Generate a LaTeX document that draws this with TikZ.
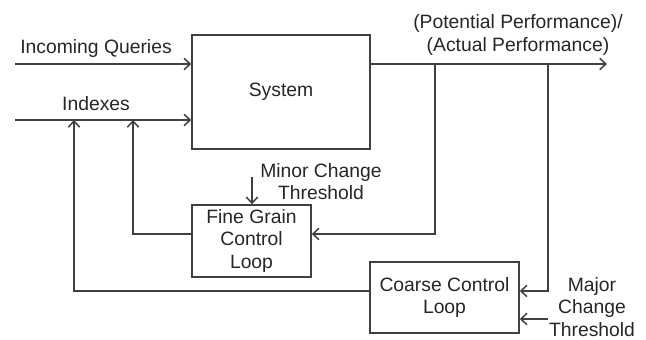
\documentclass[tikz,border=0pt]{standalone}
\usepackage{fontspec}
\setmainfont{Liberation Sans}
\usetikzlibrary{arrows.meta}

\begin{document}
\begin{tikzpicture}[x=0.02cm,y=-0.02cm,
  >={Straight Barb[length=3.5pt,width=6.5pt]},
  wire/.style={draw=black!75,line width=0.85pt},
  lbl/.style={font=\fontsize{11}{12.6}\selectfont,align=center,text=black!85},
  box/.style={draw=black!75,line width=0.85pt,inner sep=1pt,
              font=\fontsize{11}{12.6}\selectfont,align=center,text=black!85}]

  \useasboundingbox (0,0) rectangle (646,340);

  % the three blocks
  \node[box,minimum width=3.56cm,minimum height=2.28cm] (sys) at (281,92) {System};
  \node[box,minimum width=2.38cm,minimum height=1.44cm] (fine) at (251.5,241)
        {Fine Grain\\Control\\Loop};
  \node[box,minimum width=2.98cm,minimum height=1.42cm] (coarse) at (444.5,297.5)
        {Coarse Control\\Loop};

  % free ends and taps
  \coordinate (qin) at (15,64);
  \coordinate (xin) at (15,120);
  \coordinate (out) at (607,64);
  \coordinate (tapfine) at (435,64);
  \coordinate (tapcoarse) at (548,64);
  \coordinate (idxfine) at (133,120);
  \coordinate (idxcoarse) at (74,120);
  \coordinate (minor) at (252,177);
  \coordinate (major) at (548,319);

  % inputs and output
  \draw[wire,->] (qin) -- (qin -| sys.west);
  \draw[wire,->] (xin) -- (xin -| sys.west);
  \draw[wire,->] (out -| sys.east) -- (out);

  % fine loop
  \draw[wire,->] (tapfine) |- ([yshift=0.14cm]fine.east);
  \draw[wire,->] ([yshift=0.14cm]fine.west) -| (idxfine);
  \draw[wire,->] (minor) -- (minor |- fine.north);

  % coarse loop
  \draw[wire,->] (tapcoarse) |- ([yshift=0.13cm]coarse.east);
  \draw[wire,->] ([yshift=0.13cm]coarse.west) -| (idxcoarse);
  \draw[wire,->] (major) -- (major -| coarse.east);

  % labels
  \node[lbl] (lq) at (96,49) {Incoming Queries};
  \node[lbl] (lx) at (96,104) {Indexes};
  \node[lbl] (lp) at (518,35) {(Potential Performance)/\\(Actual Performance)};
  \node[lbl] (lmin) at (321,182) {Minor Change\\Threshold};
  \node[lbl,inner sep=0pt] (lmaj) at (592,307) {Major\\Change\\Threshold};

\end{tikzpicture}
\end{document}
